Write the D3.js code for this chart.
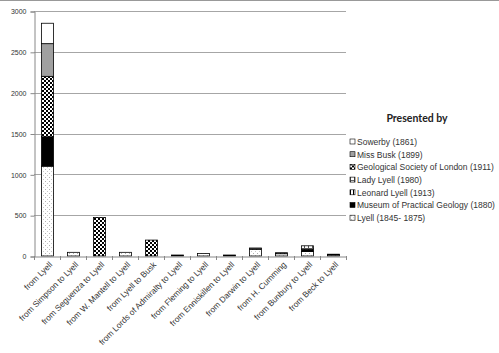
<!DOCTYPE html>
<html lang="en">
<head>
  <meta charset="UTF-8">
  <title>Presented by</title>
  <script src="https://d3js.org/d3.v7.min.js"></script>
</head>
<body style="margin:0;background:#fff">

  <div id="chart"></div>

  <script type="text/javascript">

  var w = 499;
  var h = 353;
  var margin = ({top: 11, right: 153, bottom: 97, left: 34});

  var categories = ["from Lyell", "from Simpson to Lyell", "from Seguenza to Lyell",
    "from W. Mantell to Lyell", "from Lyell to Busk", "from Lords of Admiralty to Lyell",
    "from Fleming to Lyell", "from Enniskillen to Lyell", "from Darwin to Lyell",
    "from H. Cumming", "from Bunbury to  Lyell", "from Beck to Lyell"];

  // series listed bottom of stack first
  var seriesNames = ["Lyell (1845- 1875)", "Museum of Practical Geology (1880)",
    "Leonard Lyell (1913)", "Lady Lyell (1980)", "Geological Society of London (1911)",
    "Miss Busk (1899)", "Sowerby (1861)"];

  var lyell      = [1100, 45, 0, 45, 0, 0, 30, 0, 82, 28, 55, 14];
  var museum     = [360, 0, 0, 0, 0, 12, 0, 12, 0, 0, 25, 8];
  var leonard    = [0, 0, 0, 0, 0, 0, 0, 0, 0, 0, 0, 0];
  var ladyLyell  = [0, 0, 0, 0, 0, 0, 0, 0, 16, 12, 45, 0];
  var geological = [740, 0, 472, 0, 195, 0, 0, 0, 0, 0, 0, 0];
  var missBusk   = [400, 0, 0, 0, 0, 0, 0, 0, 0, 0, 0, 0];
  var sowerby    = [250, 0, 0, 0, 0, 0, 0, 0, 0, 0, 0, 0];

  var yTicks = [0, 500, 1000, 1500, 2000, 2500, 3000];

  var fills = ["url(#dots)", "#000", "url(#stripes)", "url(#grid)", "url(#checker)", "#a0a0a0", "#fff"];

  var table = categories.map(function(c, i) {
    return {cat: c, s0: lyell[i], s1: museum[i], s2: leonard[i], s3: ladyLyell[i],
      s4: geological[i], s5: missBusk[i], s6: sowerby[i]};
  });
  var keys = ["s0", "s1", "s2", "s3", "s4", "s5", "s6"];

  var stack = d3.stack().keys(keys)(table);

  var x = d3.scaleBand()
    .domain(categories)
    .range([margin.left, w - margin.right])
    .paddingInner(0.55)
    .paddingOuter(0.275);

  var y = d3.scaleLinear()
    .domain([0, 3000])
    .range([h - margin.bottom, margin.top]);

  var svg = d3.select('#chart')
    .append('svg')
    .attr('width', w)
    .attr('height', h);

  // patterns
  var defs = svg.append("defs");

  var checker = defs.append("pattern").attr("id", "checker")
    .attr("width", 4).attr("height", 4).attr("patternUnits", "userSpaceOnUse");
  checker.append("rect").attr("width", 4).attr("height", 4).attr("fill", "#fff");
  checker.append("rect").attr("width", 2).attr("height", 2).attr("fill", "#000");
  checker.append("rect").attr("x", 2).attr("y", 2).attr("width", 2).attr("height", 2).attr("fill", "#000");

  var dots = defs.append("pattern").attr("id", "dots")
    .attr("width", 4).attr("height", 4).attr("patternUnits", "userSpaceOnUse");
  dots.append("rect").attr("width", 4).attr("height", 4).attr("fill", "#fff");
  dots.append("rect").attr("x", 1).attr("y", 1).attr("width", 1).attr("height", 1).attr("fill", "#b0b0b0");
  dots.append("rect").attr("x", 3).attr("y", 3).attr("width", 1).attr("height", 1).attr("fill", "#c8c8c8");

  var grid = defs.append("pattern").attr("id", "grid")
    .attr("width", 4).attr("height", 4).attr("patternUnits", "userSpaceOnUse");
  grid.append("rect").attr("width", 4).attr("height", 4).attr("fill", "#fff");
  grid.append("rect").attr("width", 4).attr("height", 1).attr("fill", "#555");
  grid.append("rect").attr("width", 1).attr("height", 4).attr("fill", "#555");

  var stripes = defs.append("pattern").attr("id", "stripes")
    .attr("width", 3).attr("height", 3).attr("patternUnits", "userSpaceOnUse");
  stripes.append("rect").attr("width", 3).attr("height", 3).attr("fill", "#fff");
  stripes.append("rect").attr("width", 1).attr("height", 3).attr("fill", "#000");

  // top border
  svg.append("line")
    .attr("x1", 0).attr("x2", w).attr("y1", 0.5).attr("y2", 0.5)
    .attr("stroke", "#999");

  // gridlines
  svg.append("g")
    .selectAll("line")
    .data(yTicks.slice(1))
    .enter()
    .append("line")
    .attr("x1", margin.left).attr("x2", w - margin.right)
    .attr("y1", d => Math.round(y(d)) + 0.5).attr("y2", d => Math.round(y(d)) + 0.5)
    .attr("stroke", "#a6a6a6");

  // y axis
  var yAxis = svg.append("g")
    .attr("transform", "translate(" + (margin.left + 0.5) + ",0.5)")
    .call(d3.axisLeft(y).tickValues(yTicks).tickFormat(d3.format("d")).tickSize(4).tickPadding(4));
  yAxis.select(".domain").attr("stroke", "#888");
  yAxis.selectAll(".tick line").attr("stroke", "#888");
  yAxis.selectAll("text")
    .attr("font-family", "Liberation Sans, Arial, sans-serif")
    .attr("font-size", "7px")
    .attr("fill", "#333");

  // bars
  var layers = svg.selectAll("g.layer")
    .data(stack)
    .enter()
    .append("g")
    .attr("class", "layer")
    .attr("fill", (d, i) => fills[i]);

  layers.selectAll("rect")
    .data(d => d.filter(p => p[1] > p[0]))
    .enter()
    .append("rect")
    .attr("x", d => Math.round(x(d.data.cat)) + 0.5)
    .attr("y", d => y(d[1]))
    .attr("width", Math.round(x.bandwidth()))
    .attr("height", d => y(d[0]) - y(d[1]))
    .attr("stroke", "#000")
    .attr("stroke-width", 0.8);

  // x axis
  var xAxis = svg.append("g")
    .attr("transform", "translate(0," + (Math.round(y(0)) + 0.5) + ")")
    .call(d3.axisBottom(x).tickSize(0).tickPadding(0));
  xAxis.select(".domain").attr("stroke", "#888");
  xAxis.selectAll("text")
    .attr("font-family", "Liberation Sans, Arial, sans-serif")
    .attr("font-size", "8.3px")
    .attr("fill", "#333")
    .attr("text-anchor", "end")
    .attr("dy", "0.3em")
    .attr("transform", "translate(4,7) rotate(-45)");

  // category separator ticks
  var step = x.step();
  svg.append("g")
    .selectAll("line")
    .data(d3.range(categories.length + 1))
    .enter()
    .append("line")
    .attr("x1", i => Math.round(margin.left + i * step) + 0.5)
    .attr("x2", i => Math.round(margin.left + i * step) + 0.5)
    .attr("y1", y(0)).attr("y2", y(0) + 4)
    .attr("stroke", "#888");

  // legend
  var legend = svg.append("g");
  legend.append("text")
    .attr("x", 417).attr("y", 122)
    .attr("text-anchor", "middle")
    .attr("font-family", "Lato, sans-serif")
    .attr("font-weight", "bold")
    .attr("font-size", "10.5px")
    .attr("fill", "#222")
    .text("Presented by");

  var items = legend.selectAll("g.item")
    .data(seriesNames.map((n, i) => ({name: n, fill: fills[i]})).reverse())
    .enter()
    .append("g")
    .attr("class", "item")
    .attr("transform", (d, i) => "translate(350," + (142 + i * 12.7) + ")");

  items.append("rect")
    .attr("x", 0).attr("y", -3)
    .attr("width", 5).attr("height", 5)
    .attr("fill", d => d.fill)
    .attr("stroke", "#000")
    .attr("stroke-width", 0.6);

  items.append("text")
    .attr("x", 7).attr("y", 0)
    .attr("dy", "0.33em")
    .attr("font-family", "Liberation Sans, Arial, sans-serif")
    .attr("font-size", "8.5px")
    .attr("fill", "#333")
    .text(d => d.name);

  </script>
</body>
</html>
